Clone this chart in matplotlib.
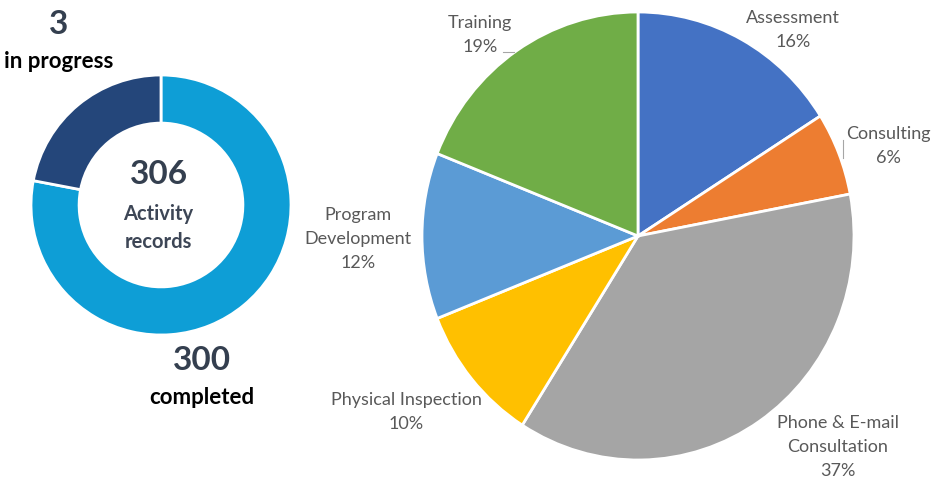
import matplotlib.pyplot as plt

# Donut: activity records status
status_labels = ["completed", "in progress"]
status_counts = [300, 3]
total_records = 306
# share of the ring as drawn in the reference (not to scale with the counts)
ring_share = [78, 22]
ring_colors = ["#0e9ed6", "#24467a"]

# Pie: activity types
categories = ["Assessment", "Consulting", "Phone & E-mail\nConsultation",
              "Physical Inspection", "Program\nDevelopment", "Training"]
shares = [16, 6, 37, 10, 12, 19]
pie_colors = ["#4472c4", "#ed7d31", "#a5a5a5", "#ffc000", "#5b9bd5", "#70ad47"]

W, H = 931, 479
fig = plt.figure(figsize=(W / 100, H / 100), dpi=100)


def px(x, y):
    return x / W, 1 - y / H


# donut, center (161, 205), r=130 px
cx, cy, r = 161, 205, 130
ax1 = fig.add_axes([(cx - 150) / W, (H - cy - 150) / H, 300 / W, 300 / H])
ax1.pie(ring_share, colors=ring_colors, startangle=90, counterclock=False,
        radius=1, wedgeprops=dict(width=0.37, edgecolor="white", linewidth=2))
ax1.set_xlim(-150 / r, 150 / r)
ax1.set_ylim(-150 / r, 150 / r)
ax1.set_aspect("auto")
ax1.axis("off")

num_color = "#343f4f"
font = "Lato"
fig.text(*px(159, 174), str(total_records), ha="center", va="center",
         fontsize=24, fontweight="bold", color=num_color, family=font)
fig.text(*px(158, 214), "Activity", ha="center", va="center",
         fontsize=14.5, fontweight="bold", color="#3d4656", family=font)
fig.text(*px(158, 242), "records", ha="center", va="center",
         fontsize=14.5, fontweight="bold", color="#3d4656", family=font)

fig.text(*px(59, 25), str(status_counts[1]), ha="center", va="center",
         fontsize=24, fontweight="bold", color=num_color, family=font)
fig.text(*px(59, 62), status_labels[1], ha="center", va="center",
         fontsize=16, fontweight="bold", color="black", family=font)
fig.text(*px(202, 360), str(status_counts[0]), ha="center", va="center",
         fontsize=24, fontweight="bold", color=num_color, family=font)
fig.text(*px(202, 397), status_labels[0], ha="center", va="center",
         fontsize=16, fontweight="bold", color="black", family=font)

# pie, center (638, 236), rx=216, ry=224 px
pcx, pcy, rx, ry = 638, 236, 216, 224
half = 245
ax2 = fig.add_axes([(pcx - half) / W, (H - pcy - half) / H, 2 * half / W, 2 * half / H])
ax2.pie(shares, colors=pie_colors, startangle=90, counterclock=False, radius=1,
        wedgeprops=dict(edgecolor="white", linewidth=2))
ax2.set_xlim(-half / rx, half / rx)
ax2.set_ylim(-half / ry, half / ry)
ax2.set_aspect("auto")
ax2.axis("off")

label_pos = [(793, 30), (888, 146), (838, 447), (406, 412), (358, 239), (480, 35)]
for name, val, (x, y) in zip(categories, shares, label_pos):
    fig.text(*px(x, y), f"{name}\n{val}%", ha="center", va="center",
             fontsize=13, color="#595959", family=font, linespacing=1.63)

# leader lines
fig.add_artist(plt.Line2D([503 / W, 514 / W], [1 - 52 / H, 1 - 52 / H],
                          color="#a6a6a6", linewidth=0.8))
fig.add_artist(plt.Line2D([843 / W, 843 / W], [1 - 140 / H, 1 - 158 / H],
                          color="#a6a6a6", linewidth=0.8))

fig.savefig("out.png", dpi=100)
